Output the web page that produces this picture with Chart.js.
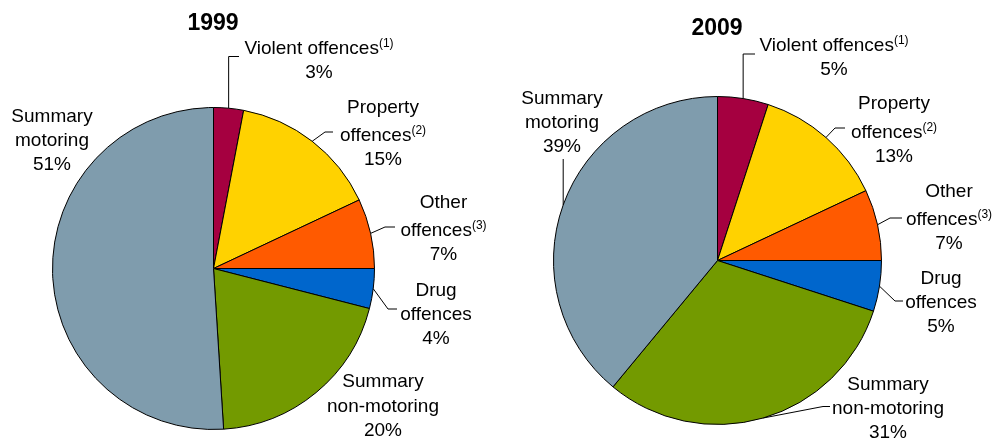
<!DOCTYPE html>
<html>
<head>
<meta charset="utf-8">
<script src="https://cdn.jsdelivr.net/npm/chart.js@4/dist/chart.umd.min.js"></script>
<style>
  html, body { margin: 0; padding: 0; background: #fff; }
  #wrap { position: relative; width: 994px; height: 439px; }
  #wrap canvas { position: absolute; left: 0; top: 0; }
</style>
</head>
<body>
<div id="wrap">
  <canvas id="pie1999" width="994" height="439"></canvas>
  <canvas id="pie2009" width="994" height="439"></canvas>
</div>
<script>
// Offence groups, clockwise from 12 o'clock
const categories = ['Violent offences', 'Property offences', 'Other offences', 'Drug offences', 'Summary non-motoring', 'Summary motoring'];
const nameLines = [['Violent offences'], ['Property', 'offences'], ['Other', 'offences'], ['Drug', 'offences'], ['Summary', 'non-motoring'], ['Summary', 'motoring']];
const footnotes = ['(1)', '(2)', '(3)', '', '', ''];
const years = ['1999', '2009'];
const shares1999 = [3, 15, 7, 4, 20, 51];
const shares2009 = [5, 13, 7, 5, 31, 39];

const sliceColors = ['#A50040', '#FFD200', '#FF5A00', '#0066CC', '#739A00', '#7F9CAD'];

const FONT = '"Liberation Sans", Arial, Helvetica, sans-serif';
const LINE_H = 24.2;
const SUP_EXTRA = 4;

// Placement of the title and of each label block (centre x, first baseline)
// plus the elbow / end of its leader line (null x = straight up/down from the slice)
const layouts = {
  '1999': {
    padding: { left: 52, right: 619, top: 107, bottom: 9 },
    title: [213, 30],
    blocks: [[319, 53.5], [383, 112.6], [443.5, 208], [436, 295.6], [383, 387.3], [52, 121.6]],
    leaders: [
      { elbow: [null, 56.5], end: [239, 56.5] },
      { elbow: [325, 132], end: [333, 132] },
      { elbow: [385, 227], end: [395, 227] },
      { elbow: [388, 309], end: [397, 309] },
      null,
      null
    ]
  },
  '2009': {
    padding: { left: 553, right: 112, top: 96, bottom: 14 },
    title: [717, 35],
    blocks: [[834, 51], [894, 109.3], [949, 197], [941, 283.6], [888, 389.5], [562, 103.6]],
    leaders: [
      { elbow: [null, 54], end: [755, 54] },
      { elbow: [835, 128], end: [845, 128] },
      { elbow: [890, 218], end: [902, 218] },
      { elbow: [895, 301], end: [903, 301] },
      { elbow: [823, 406.5], end: [830, 406.5] },
      { elbow: [null, 159], end: null }
    ]
  }
};

// Draws the year title, leader lines and the multi-line labels with superscript notes
const pieLabels = {
  id: 'pieLabels',
  afterDatasetsDraw(chart) {
    const year = chart.canvas.dataset.year;
    const layout = layouts[year];
    const ctx = chart.ctx;
    const values = chart.data.datasets[0].data;
    const meta = chart.getDatasetMeta(0);
    ctx.save();

    // title
    ctx.fillStyle = '#000';
    ctx.font = 'bold 23px ' + FONT;
    ctx.textAlign = 'center';
    ctx.textBaseline = 'alphabetic';
    ctx.fillText(year, layout.title[0], layout.title[1]);

    // leader lines
    ctx.strokeStyle = '#000';
    ctx.lineWidth = 1;
    meta.data.forEach((arc, i) => {
      const spec = layout.leaders[i];
      if (!spec) return;
      const p = arc.getProps(['x', 'y', 'startAngle', 'endAngle', 'outerRadius'], true);
      const mid = (p.startAngle + p.endAngle) / 2;
      const ex = p.x + Math.cos(mid) * p.outerRadius;
      const ey = p.y + Math.sin(mid) * p.outerRadius;
      ctx.beginPath();
      ctx.moveTo(ex, ey);
      const bx = spec.elbow[0] === null ? ex : spec.elbow[0];
      ctx.lineTo(bx, spec.elbow[1]);
      if (spec.end) ctx.lineTo(spec.end[0], spec.end[1]);
      ctx.stroke();
    });

    // labels
    ctx.textAlign = 'left';
    values.forEach((v, i) => {
      const names = nameLines[i];
      const lines = names.map((t, k) => ({ text: t, sup: k === names.length - 1 ? footnotes[i] : '' }));
      lines.push({ text: v + '%', sup: '' });
      const cx = layout.blocks[i][0];
      let by = layout.blocks[i][1];
      lines.forEach((ln, k) => {
        if (k > 0) by += LINE_H + (ln.sup ? SUP_EXTRA : 0);
        ctx.font = '19px ' + FONT;
        const w = ctx.measureText(ln.text).width;
        ctx.font = '12px ' + FONT;
        const ws = ln.sup ? ctx.measureText(ln.sup).width : 0;
        const x0 = cx - (w + ws) / 2;
        ctx.font = '19px ' + FONT;
        ctx.fillText(ln.text, x0, by);
        if (ln.sup) {
          ctx.font = '12px ' + FONT;
          ctx.fillText(ln.sup, x0 + w, by - 7);
        }
      });
    });
    ctx.restore();
  }
};

function makePie(canvasId, year, values) {
  const canvas = document.getElementById(canvasId);
  canvas.dataset.year = year;
  return new Chart(canvas, {
    type: 'pie',
    data: {
      labels: categories,
      datasets: [{
        data: values,
        backgroundColor: sliceColors,
        borderColor: '#000',
        borderWidth: 1
      }]
    },
    options: {
      responsive: false,
      animation: false,
      devicePixelRatio: 1,
      layout: { padding: layouts[year].padding },
      plugins: {
        legend: { display: false },
        tooltip: { enabled: false },
        title: { display: false }
      }
    },
    plugins: [pieLabels]
  });
}

makePie('pie1999', years[0], shares1999);
makePie('pie2009', years[1], shares2009);
</script>
</body>
</html>
